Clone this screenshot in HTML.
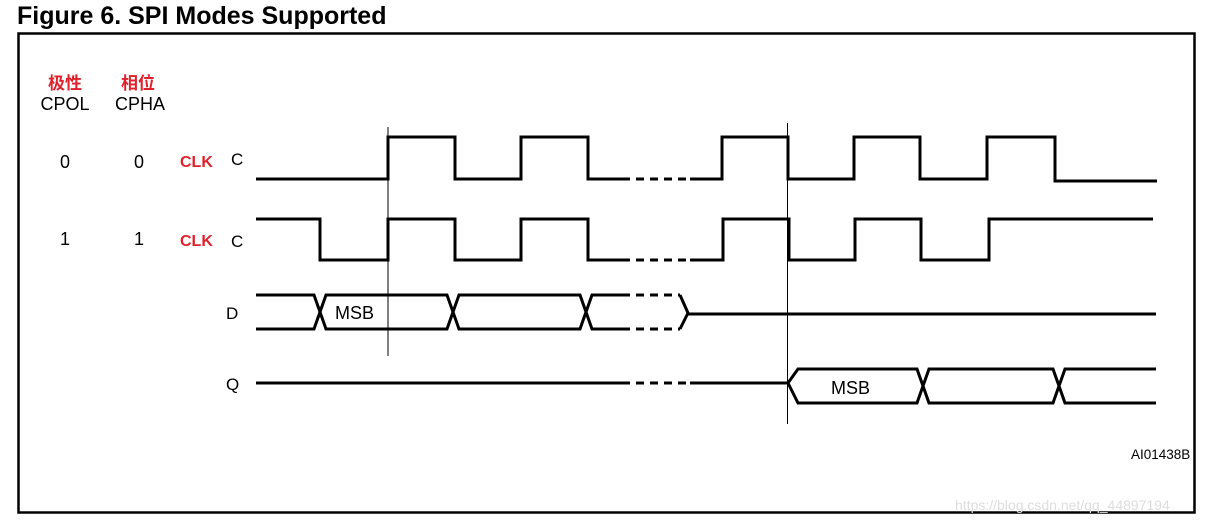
<!DOCTYPE html>
<html><head><meta charset="utf-8"><style>
body{margin:0;background:#fff;width:1207px;height:525px;overflow:hidden;position:relative;font-family:"Liberation Sans",Arial,sans-serif}
</style></head><body>
<svg width="1207" height="525" xmlns="http://www.w3.org/2000/svg" style="position:absolute;left:0;top:0">
<text x="17" y="24" font-family="Liberation Sans, Arial, sans-serif" font-weight="bold" font-size="25">Figure 6. SPI Modes Supported</text>
<rect x="18.5" y="33.5" width="1176" height="479" fill="none" stroke="#000" stroke-width="2.5"/>
<g font-family="Liberation Sans, Noto Sans CJK SC, sans-serif" font-size="18">
<text x="65" y="89" text-anchor="middle" fill="#e0202a" font-weight="bold" font-size="17">极性</text>
<text x="138" y="89" text-anchor="middle" fill="#e0202a" font-weight="bold" font-size="17">相位</text>
<text x="65" y="110" text-anchor="middle">CPOL</text>
<text x="140" y="110" text-anchor="middle">CPHA</text>
<text x="65" y="168" text-anchor="middle">0</text>
<text x="139" y="168" text-anchor="middle">0</text>
<text x="65" y="245" text-anchor="middle">1</text>
<text x="139" y="245" text-anchor="middle">1</text>
<text x="180" y="167" fill="#e0202a" font-weight="bold" font-size="16">CLK</text>
<text x="180" y="246" fill="#e0202a" font-weight="bold" font-size="16">CLK</text>
<text x="231" y="165" font-size="17">C</text>
<text x="231" y="247" font-size="17">C</text>
<text x="226" y="319" font-size="17">D</text>
<text x="226" y="390" font-size="17">Q</text>
<text x="335" y="319">MSB</text>
<text x="831" y="394">MSB</text>
<text x="1131" y="459" font-size="13.5">AI01438B</text>
</g>
<g fill="none" stroke="#000" stroke-width="3">
<polyline points="256,179 388,179 388,137 455,137 455,179 521,179 521,137 588,137 588,179 622,179"/>
<polyline points="690,179 722,179 722,137 788,137 788,179 854,179 854,137 920,137 920,179 987,179 987,137 1055,137 1055,181 1157,181"/>
<polyline points="256,219 320,219 320,260 388,260 388,219 455,219 455,260 521,260 521,219 588,219 588,260 622,260"/>
<polyline points="690,260 723,260 723,219 789,219 789,260 855,260 855,219 921,219 921,260 989,260 989,219 1153,219"/>
<line x1="622" y1="179" x2="690" y2="179" stroke-dasharray="8,6"/>
<line x1="622" y1="260" x2="690" y2="260" stroke-dasharray="8,6"/>
<polyline points="256,295 314,295 326,329 447,329 459,295 580,295 592,329 622,329"/>
<polyline points="256,329 314,329 326,295 447,295 459,329 580,329 592,295 622,295"/>
<line x1="622" y1="295" x2="680" y2="295" stroke-dasharray="8,6"/>
<line x1="622" y1="329" x2="680" y2="329" stroke-dasharray="8,6"/>
<polyline points="680,295 688,313 680,329"/>
<line x1="688" y1="314" x2="1156" y2="314"/>
<line x1="256" y1="383" x2="622" y2="383"/>
<line x1="622" y1="383" x2="690" y2="383" stroke-dasharray="8,6"/>
<polyline points="690,383 788,383 798,369 917,369 929,403 1053,403 1065,369 1156,369"/>
<polyline points="788,383 798,403 917,403 929,369 1053,369 1065,403 1156,403"/>
</g>
<line x1="388" y1="127" x2="388" y2="356" stroke="#000" stroke-width="1"/>
<line x1="787.5" y1="123" x2="787.5" y2="424" stroke="#000" stroke-width="1"/>
<text x="955" y="510" font-family="Liberation Sans, sans-serif" font-size="14" fill="#ddd">https://blog.csdn.net/qq_44897194</text>
</svg>
</body></html>
